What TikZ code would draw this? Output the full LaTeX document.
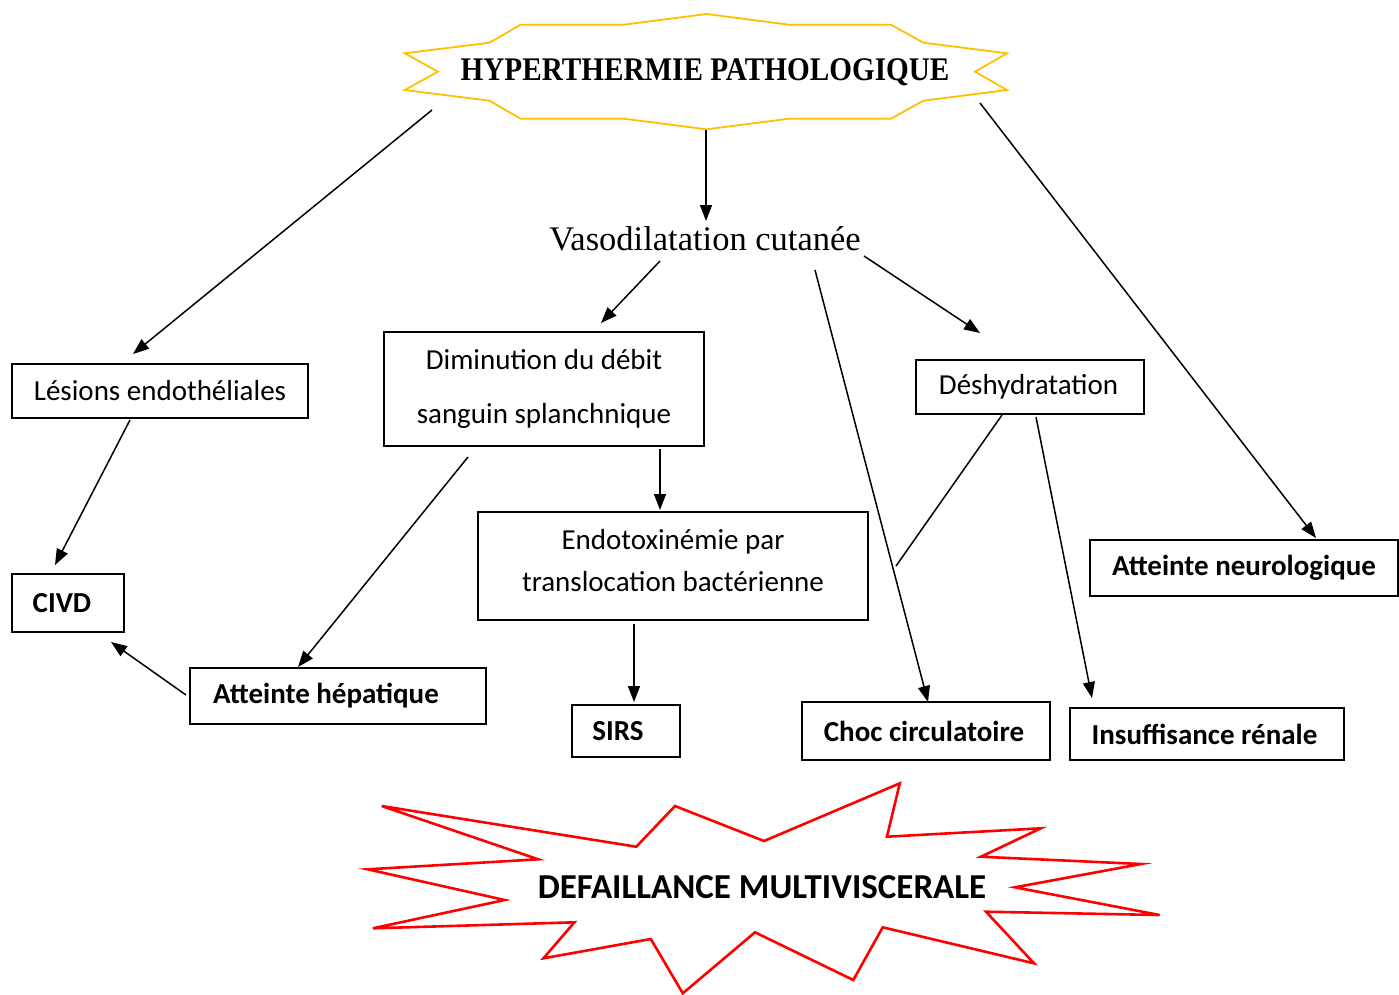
\documentclass[tikz,border=0pt]{standalone}
\usepackage{fontspec}
\setmainfont{Carlito}
\newfontfamily\titleserif{Liberation Serif}
\usetikzlibrary{arrows.meta}
\definecolor{starYellow}{RGB}{255,192,0}
\definecolor{burstRed}{RGB}{255,0,0}
\begin{document}
\begin{tikzpicture}[x=1pt,y=-1pt,
  box/.style={draw, line width=1.2pt, inner sep=0pt, font=\fontsize{29}{34}\selectfont},
  boldbox/.style={box, font=\fontsize{29}{34}\selectfont\bfseries},
  arr/.style={line width=1.5pt, -{Triangle[length=16pt,width=12pt]}},
  plain/.style={line width=1.5pt}]
\useasboundingbox (0,0) rectangle (1399,994);
% title star
\draw[starYellow, line width=1.8pt, line join=miter]
  (706.6,14) -- (789,24.7) -- (891,24.7) -- (923.4,42.7) -- (1007,53.3) -- (975,71.7)
  -- (1007,90) -- (923.4,100.7) -- (891,118.7) -- (789,118.7) -- (706.6,129.3)
  -- (623.7,118.7) -- (520.6,118.7) -- (489.5,100.7) -- (404.7,90) -- (438,71.7)
  -- (404.7,53.3) -- (489.5,42.7) -- (520.6,24.7) -- (623.7,24.7) -- cycle;
\node[font=\titleserif\bfseries\fontsize{33}{38}\selectfont] (title) at (705,72)
  {\scalebox{0.885}[1]{HYPERTHERMIE PATHOLOGIQUE}};
% vasodilatation
\node[font=\titleserif\fontsize{34.5}{40}\selectfont] (vaso) at (705,239) {Vasodilatation cutanée};
% boxes
\node[box, minimum width=296pt, minimum height=54pt] (lesions) at (160,391) {Lésions endothéliales};
\node[box, minimum width=320pt, minimum height=114pt, align=center, font=\fontsize{29}{54}\selectfont] (dimin) at (544,389)
  {Diminution du débit\\sanguin splanchnique};
\node[box, minimum width=228pt, minimum height=54pt] (desh) at (1030,387) {Déshydratation\kern3pt};
\node[box, minimum width=390pt, minimum height=108pt] (endo) at (673,566) {};
\node[align=center, inner sep=0pt, font=\fontsize{29}{42}\selectfont] (endotext) at (673,561)
  {Endotoxinémie par\\translocation bactérienne};
\node[boldbox, minimum width=112pt, minimum height=58pt] (civd) at (68,603) {CIVD\kern12pt};
\node[boldbox, minimum width=296pt, minimum height=56pt] (hep) at (338,696) {Atteinte hépatique\kern24pt};
\node[boldbox, minimum width=108pt, minimum height=52pt] (sirs) at (626,731) {SIRS\kern16pt};
\node[boldbox, minimum width=248pt, minimum height=58pt] (choc) at (926,731) {Choc circulatoire\kern4pt};
\node[boldbox, minimum width=274pt, minimum height=52pt] (insuf) at (1207,734) {Insuffisance rénale\kern5pt};
\node[boldbox, minimum width=308pt, minimum height=56pt] (neuro) at (1244,568) {Atteinte neurologique};
% burst
\draw[burstRed, line width=2.6pt, line join=miter]
  (381.7,806) -- (636.3,846.7) -- (675,806) -- (764,841) -- (899.8,783.3)
  -- (886.9,836.7) -- (1040.8,828.3) -- (980.9,856.7) -- (1141,864) -- (1015,887.3)
  -- (1159.6,915) -- (986,911.7) -- (1034,963.3) -- (882.7,927.3) -- (853.3,980)
  -- (755,932.3) -- (682.8,993.3) -- (650.8,939) -- (543.4,958.3) -- (574.4,922.3)
  -- (372.9,928.3) -- (504.6,900) -- (367.7,869.3) -- (538.2,859.3) -- cycle;
\node[font=\fontsize{35}{40}\selectfont\bfseries] (mof) at (762,887) {DEFAILLANCE MULTIVISCERALE};
% connector end points
\coordinate (tL) at (432,110);  \coordinate (lesT) at (133,354);
\coordinate (tB) at (706,130);  \coordinate (vasT) at (706,221);
\coordinate (tR) at (980,103);  \coordinate (neuT) at (1316,538);
\coordinate (vasL) at (660,261); \coordinate (dimT) at (601,323);
\coordinate (vasR) at (864,256); \coordinate (desT) at (980,333);
\coordinate (vasC) at (815,270); \coordinate (chocT) at (928,702);
\coordinate (lesB) at (130,420); \coordinate (civT) at (55,565);
\coordinate (dimB) at (468,457); \coordinate (hepT) at (298,667);
\coordinate (dimB2) at (660,449); \coordinate (endT) at (660,510);
\coordinate (endB) at (634,624); \coordinate (sirT) at (634,702);
\coordinate (hepL) at (186,695); \coordinate (civB) at (111,642);
\coordinate (desB) at (1036,417); \coordinate (insT) at (1092,698);
\coordinate (desB2) at (1002,415); \coordinate (join) at (896,566);
% connectors
\draw[arr] (tL) -- (lesT);
\draw[arr] (tB) -- (vasT);
\draw[arr] (tR) -- (neuT);
\draw[arr] (vasL) -- (dimT);
\draw[arr] (vasR) -- (desT);
\draw[arr] (vasC) -- (chocT);
\draw[arr] (lesB) -- (civT);
\draw[arr] (dimB) -- (hepT);
\draw[arr] (dimB2) -- (endT);
\draw[arr] (endB) -- (sirT);
\draw[arr] (hepL) -- (civB);
\draw[arr] (desB) -- (insT);
\draw[plain] (desB2) -- (join);
\end{tikzpicture}
\end{document}
